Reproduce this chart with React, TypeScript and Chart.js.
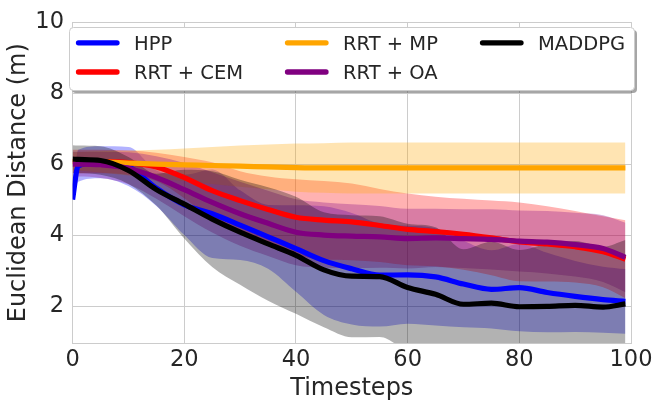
import { useEffect, useRef } from "react";
import { Chart, registerables } from "chart.js";

Chart.register(...registerables);

const TIMESTEPS = [0, 1, 5, 10, 15, 20, 25, 30, 35, 40, 45, 50, 55, 60, 65, 70, 75, 80, 85, 90, 95, 99];
const X_TICKS = [0, 20, 40, 60, 80, 100];
const Y_TICKS = [2, 4, 6, 8, 10];

const SERIES_NAMES = ["HPP", "RRT + CEM", "RRT + MP", "RRT + OA", "MADDPG"];
const SERIES_COLORS = ["#0000ff", "#ff0000", "#ffa500", "#800080", "#000000"];

const HPP_MEAN = [5.0, 5.95, 6.05, 5.93, 5.32, 4.85, 4.6, 4.28, 3.95, 3.62, 3.28, 3.05, 2.87, 2.88, 2.82, 2.62, 2.47, 2.52, 2.38, 2.27, 2.18, 2.13];
const HPP_SD = [0, 0.45, 0.45, 0.55, 0.5, 0.85, 1.25, 0.98, 0.9, 1.22, 1.53, 1.57, 1.45, 1.38, 1.37, 1.22, 1.1, 1.23, 1.12, 1.0, 0.93, 0.91];

const CEM_MEAN = [6.07, 6.07, 6.07, 6.04, 5.92, 5.62, 5.25, 4.97, 4.72, 4.5, 4.42, 4.37, 4.27, 4.16, 4.1, 4.02, 3.92, 3.81, 3.75, 3.67, 3.53, 3.32];
const CEM_SD = [0.33, 0.33, 0.33, 0.34, 0.4, 0.58, 0.8, 0.83, 0.93, 1.07, 1.1, 1.08, 1.03, 1.01, 0.98, 1.0, 1.05, 1.11, 1.06, 1.01, 1.0, 1.1];

const MP_MEAN = [6.08, 6.08, 6.06, 6.03, 6.0, 5.98, 5.96, 5.94, 5.92, 5.9, 5.89, 5.89, 5.89, 5.89, 5.89, 5.89, 5.89, 5.89, 5.89, 5.89, 5.89, 5.89];
const MP_SD = [0.25, 0.26, 0.3, 0.35, 0.4, 0.46, 0.52, 0.58, 0.63, 0.68, 0.7, 0.72, 0.72, 0.72, 0.72, 0.72, 0.72, 0.72, 0.72, 0.72, 0.72, 0.72];

const OA_MEAN = [6.0, 6.0, 5.98, 5.88, 5.62, 5.28, 4.92, 4.6, 4.33, 4.08, 4.0, 3.97, 3.95, 3.9, 3.92, 3.9, 3.88, 3.83, 3.8, 3.73, 3.62, 3.37];
const OA_SD = [0.35, 0.35, 0.37, 0.45, 0.6, 0.75, 0.85, 0.9, 0.92, 0.93, 0.92, 0.9, 0.87, 0.84, 0.82, 0.83, 0.85, 0.86, 0.88, 0.9, 0.94, 0.98];

const MADDPG_MEAN = [6.14, 6.13, 6.1, 5.82, 5.28, 4.87, 4.45, 4.08, 3.75, 3.43, 3.02, 2.84, 2.83, 2.52, 2.33, 2.05, 2.08, 1.98, 1.99, 2.02, 1.97, 2.06];
const MADDPG_SD = [0.39, 0.39, 0.4, 0.38, 0.45, 0.97, 1.35, 1.48, 1.6, 1.65, 1.62, 1.72, 1.7, 1.8, 1.89, 1.55, 1.73, 1.6, 1.76, 1.81, 1.7, 1.8];

const MEANS = [HPP_MEAN, CEM_MEAN, MP_MEAN, OA_MEAN, MADDPG_MEAN];
const SDS = [HPP_SD, CEM_SD, MP_SD, OA_SD, MADDPG_SD];

const FONT = "DejaVu Sans";
const TEXT_COLOR = "#262626";
const GRID_COLOR = "#cccccc";

function rgba(hex: string, a: number) {
  const n = parseInt(hex.slice(1), 16);
  return `rgba(${(n >> 16) & 255},${(n >> 8) & 255},${n & 255},${a})`;
}

function roundRectPath(ctx: CanvasRenderingContext2D, x: number, y: number, w: number, h: number, r: number) {
  ctx.beginPath();
  ctx.moveTo(x + r, y);
  ctx.lineTo(x + w - r, y);
  ctx.arcTo(x + w, y, x + w, y + r, r);
  ctx.lineTo(x + w, y + h - r);
  ctx.arcTo(x + w, y + h, x + w - r, y + h, r);
  ctx.lineTo(x + r, y + h);
  ctx.arcTo(x, y + h, x, y + h - r, r);
  ctx.lineTo(x, y + r);
  ctx.arcTo(x, y, x + r, y, r);
  ctx.closePath();
}

const legendPlugin = {
  id: "boxLegend",
  afterDraw(chart: any) {
    const ctx: CanvasRenderingContext2D = chart.ctx;
    ctx.save();
    const bx = 69.5, by = 27.5, bw = 565, bh = 63;
    roundRectPath(ctx, bx + 2.5, by + 2.5, bw, bh, 4);
    ctx.fillStyle = "rgba(77,77,77,0.5)";
    ctx.fill();
    roundRectPath(ctx, bx, by, bw, bh, 4);
    ctx.fillStyle = "#ffffff";
    ctx.fill();
    ctx.strokeStyle = GRID_COLOR;
    ctx.lineWidth = 1;
    ctx.stroke();
    const colX = [76, 285, 480];
    const rowLineY = [42.8, 72];
    const rowTextY = [50.1, 79.2];
    ctx.font = `19.5px "${FONT}"`;
    ctx.textBaseline = "alphabetic";
    ctx.textAlign = "left";
    SERIES_NAMES.forEach((name, i) => {
      const c = Math.floor(i / 2);
      const r = i % 2;
      ctx.beginPath();
      ctx.lineCap = "round";
      ctx.lineWidth = 5.3;
      ctx.strokeStyle = SERIES_COLORS[i];
      ctx.moveTo(colX[c] + 2.5, rowLineY[r]);
      ctx.lineTo(colX[c] + 41, rowLineY[r]);
      ctx.stroke();
      ctx.fillStyle = TEXT_COLOR;
      ctx.fillText(name, colX[c] + 58, rowTextY[r]);
    });
    ctx.restore();
  },
};

export default function App() {
  const ref = useRef<HTMLCanvasElement>(null);
  useEffect(() => {
    const canvas = ref.current;
    if (!canvas) return;
    const datasets: any[] = [];
    MEANS.forEach((mean, i) => {
      const sd = SDS[i];
      const upper = TIMESTEPS.map((t, k) => ({ x: t, y: mean[k] + sd[k] }));
      const lower = TIMESTEPS.map((t, k) => ({ x: t, y: mean[k] - sd[k] }));
      datasets.push({
        label: SERIES_NAMES[i] + " upper",
        data: upper,
        borderWidth: 0,
        borderColor: "transparent",
        backgroundColor: rgba(SERIES_COLORS[i], 0.3),
        pointRadius: 0,
        fill: false,
        cubicInterpolationMode: "monotone",
        order: 50 - i,
      });
      datasets.push({
        label: SERIES_NAMES[i] + " lower",
        data: lower,
        borderWidth: 0,
        borderColor: "transparent",
        backgroundColor: rgba(SERIES_COLORS[i], 0.3),
        pointRadius: 0,
        fill: "-1",
        cubicInterpolationMode: "monotone",
        order: 50 - i,
      });
    });
    MEANS.forEach((mean, i) => {
      datasets.push({
        label: SERIES_NAMES[i],
        data: TIMESTEPS.map((t, k) => ({ x: t, y: mean[k] })),
        borderColor: SERIES_COLORS[i],
        borderWidth: 5.2,
        borderJoinStyle: "round",
        pointRadius: 0,
        fill: false,
        cubicInterpolationMode: "monotone",
        clip: 0,
        order: 10 - i,
      });
    });

    const chart = new Chart(canvas, {
      type: "line",
      data: { datasets },
      options: {
        responsive: false,
        animation: false,
        layout: { padding: { top: 16.7, right: 29, left: 0, bottom: 0 } },
        plugins: { legend: { display: false }, tooltip: { enabled: false } },
        scales: {
          x: {
            type: "linear",
            min: 0,
            max: 100,
            afterBuildTicks: (s: any) => {
              s.ticks = X_TICKS.map((v) => ({ value: v }));
            },
            afterFit: (s: any) => {
              s.height = 65.7;
            },
            grid: { color: GRID_COLOR, lineWidth: 1, drawTicks: false },
            border: { display: true, color: GRID_COLOR, width: 1 },
            ticks: {
              font: { family: FONT, size: 22.5 },
              color: TEXT_COLOR,
              padding: 3.2,
              maxRotation: 0,
              autoSkip: false,
            },
            title: {
              display: true,
              text: "Timesteps",
              font: { family: FONT, size: 24 },
              color: TEXT_COLOR,
              padding: { top: 0, bottom: 5.5 },
            },
          },
          y: {
            type: "linear",
            min: 0.95,
            max: 10,
            afterBuildTicks: (s: any) => {
              s.ticks = Y_TICKS.map((v) => ({ value: v }));
            },
            afterFit: (s: any) => {
              s.width = 72.6;
            },
            grid: { color: GRID_COLOR, lineWidth: 1, drawTicks: false },
            border: { display: true, color: GRID_COLOR, width: 1 },
            ticks: {
              font: { family: FONT, size: 22.5 },
              color: TEXT_COLOR,
              padding: 8.6,
            },
            title: {
              display: true,
              text: "Euclidean Distance (m)",
              font: { family: FONT, size: 24 },
              color: TEXT_COLOR,
              padding: { top: 4, bottom: 0 },
            },
          },
        },
      },
      plugins: [legendPlugin],
    } as any);
    return () => chart.destroy();
  }, []);
  return (
    <div style={{ position: "fixed", left: 0, top: 0, width: 660, height: 409, background: "#ffffff" }}>
      <canvas ref={ref} width={660} height={409} style={{ display: "block", width: 660, height: 409 }} />
    </div>
  );
}
